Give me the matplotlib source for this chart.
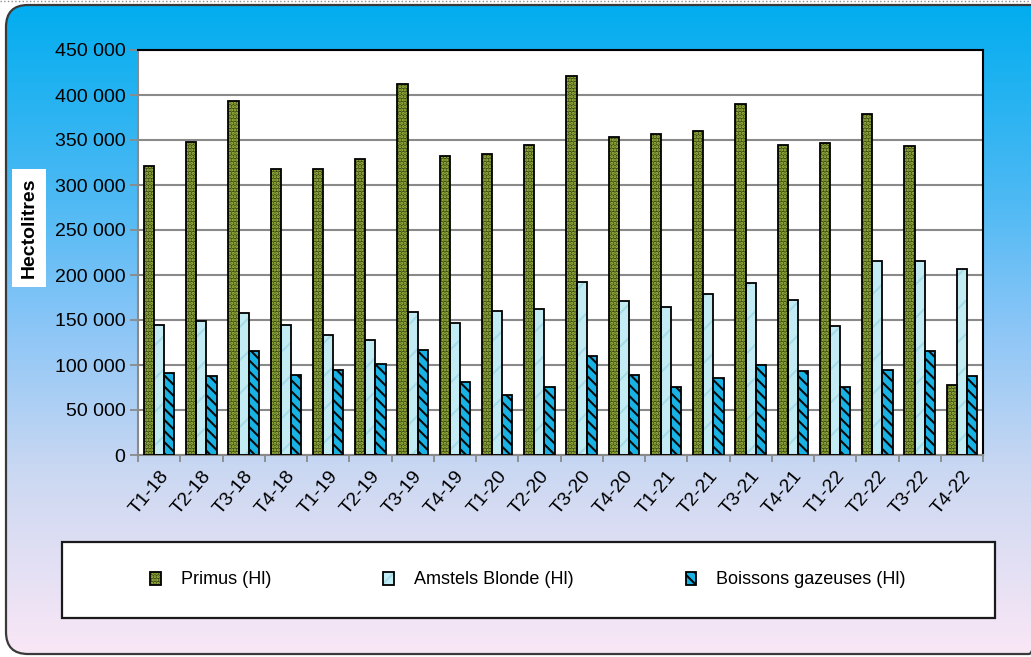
import numpy as np
import matplotlib
matplotlib.use('Agg')
import matplotlib.pyplot as plt
from matplotlib.patches import FancyBboxPatch, Rectangle
from matplotlib.colors import LinearSegmentedColormap

categories = ['T1-18', 'T2-18', 'T3-18', 'T4-18', 'T1-19', 'T2-19', 'T3-19', 'T4-19',
              'T1-20', 'T2-20', 'T3-20', 'T4-20', 'T1-21', 'T2-21', 'T3-21', 'T4-21',
              'T1-22', 'T2-22', 'T3-22', 'T4-22']
primus = [321000, 348000, 393000, 318000, 318000, 329000, 412000, 332000, 334000, 344000,
          421000, 353000, 357000, 360000, 390000, 344000, 347000, 379000, 343000, 78000]
amstel = [144000, 149000, 158000, 144000, 133000, 128000, 159000, 147000, 160000, 162000,
          192000, 171000, 165000, 179000, 191000, 172000, 143000, 216000, 216000, 207000]
gazeuses = [91000, 88000, 116000, 89000, 94000, 101000, 117000, 81000, 67000, 76000,
            110000, 89000, 76000, 86000, 100000, 93000, 76000, 95000, 116000, 88000]
series_names = ['Primus (Hl)', 'Amstels Blonde (Hl)', 'Boissons gazeuses (Hl)']
yticks = [0, 50000, 100000, 150000, 200000, 250000, 300000, 350000, 400000, 450000]
ytick_labels = ['0', '50 000', '100 000', '150 000', '200 000', '250 000',
                '300 000', '350 000', '400 000', '450 000']
y_title = 'Hectolitres'

plt.rcParams['font.family'] = ['Liberation Sans', 'DejaVu Sans']
plt.rcParams['hatch.linewidth'] = 1.5

W, H = 1031, 657
fig = plt.figure(figsize=(W / 100, H / 100), dpi=100)
fig.patch.set_facecolor('white')

# background with gradient inside rounded frame
bg = fig.add_axes([0, 0, 1, 1])
bg.set_xlim(0, W)
bg.set_ylim(H, 0)
bg.axis('off')
cmap = LinearSegmentedColormap.from_list('bg', [
    (0.0, '#00ADEF'), (0.30, '#4DB9F4'), (0.50, '#8CC6F7'),
    (0.72, '#CBD8F2'), (1.0, '#FAE7F6')])
grad = np.linspace(0, 1, 400).reshape(-1, 1)
frame = FancyBboxPatch((6, 5), 1045, 649, boxstyle='round,pad=0,rounding_size=22',
                       transform=bg.transData, facecolor='none', edgecolor='#3a3a3a',
                       linewidth=1.6, zorder=3)
im = bg.imshow(grad, extent=[0, W, H, 0], aspect='auto', cmap=cmap, zorder=1)
im.set_clip_path(frame)
bg.add_patch(frame)
bg.plot([0, W], [1, 1], color='#909090', linestyle=':', linewidth=1.0, zorder=4)

# legend box
bg.add_patch(Rectangle((62, 542), 933, 76, facecolor='white', edgecolor='#1a1a1a',
                       linewidth=1.6, zorder=5))

# main axes
ax = fig.add_axes([138 / W, 1 - 455 / H, 845 / W, 405 / H])
ax.set_facecolor('white')
x = np.arange(len(categories))
w = 0.24

p_fill = ax.bar(x - w, primus, w, color='#3e4c12', edgecolor='#a9c447', hatch='.....',
                linewidth=0, zorder=2)
p_edge = ax.bar(x - w, primus, w, fill=False, edgecolor='black', linewidth=1.3, zorder=3)
a_fill = ax.bar(x, amstel, w, color='#c3ebf4', edgecolor='#a6dbe7', hatch='/',
                linewidth=0, zorder=2)
a_edge = ax.bar(x, amstel, w, fill=False, edgecolor='black', linewidth=1.3, zorder=3)
g_fill = ax.bar(x + w, gazeuses, w, color='#19b2e5', edgecolor='#0a0a0a', hatch='\\\\\\',
                linewidth=0, zorder=2)
g_edge = ax.bar(x + w, gazeuses, w, fill=False, edgecolor='black', linewidth=1.3, zorder=3)

ax.set_xlim(-0.5, len(categories) - 0.5)
ax.set_ylim(0, 450000)
ax.set_yticks(yticks)
ax.set_yticklabels(ytick_labels, fontsize=14)
ax.yaxis.grid(True, color='#8a8a8a', linewidth=1.5, zorder=0)
ax.set_axisbelow(True)

ax.set_xticks(np.arange(len(categories) + 1) - 0.5)
ax.set_xticklabels([''] * (len(categories) + 1))
ax.set_xticks(x, minor=True)
ax.set_xticklabels(categories, minor=True, rotation=50, ha='right',
                   rotation_mode='anchor', fontsize=14)
ax.tick_params(axis='x', which='major', length=5, width=1.3, color='#8a8a8a')
ax.tick_params(axis='x', which='minor', length=0, pad=9)
ax.tick_params(axis='y', length=6, width=1.3, color='#8a8a8a', pad=3)

for s in ['left', 'bottom']:
    ax.spines[s].set_color('#8a8a8a')
    ax.spines[s].set_linewidth(1.5)
for s in ['top', 'right']:
    ax.spines[s].set_color('black')
    ax.spines[s].set_linewidth(1.5)

fig.text(29 / W, 1 - 228 / H, y_title, rotation=90, fontsize=14, fontweight='bold',
         ha='center', va='center',
         bbox=dict(facecolor='white', edgecolor='none', boxstyle='square,pad=0.45'))

handles = [(p_fill, p_edge), (a_fill, a_edge), (g_fill, g_edge)]
leg = fig.legend(handles, series_names, loc='center', bbox_to_anchor=(528 / W, 1 - 580 / H),
                 ncol=3, frameon=False, fontsize=13, handlelength=0.6, handleheight=0.75,
                 handletextpad=1.1, columnspacing=6.2)
leg.set_zorder(10)

fig.savefig('out.png', dpi=100)
